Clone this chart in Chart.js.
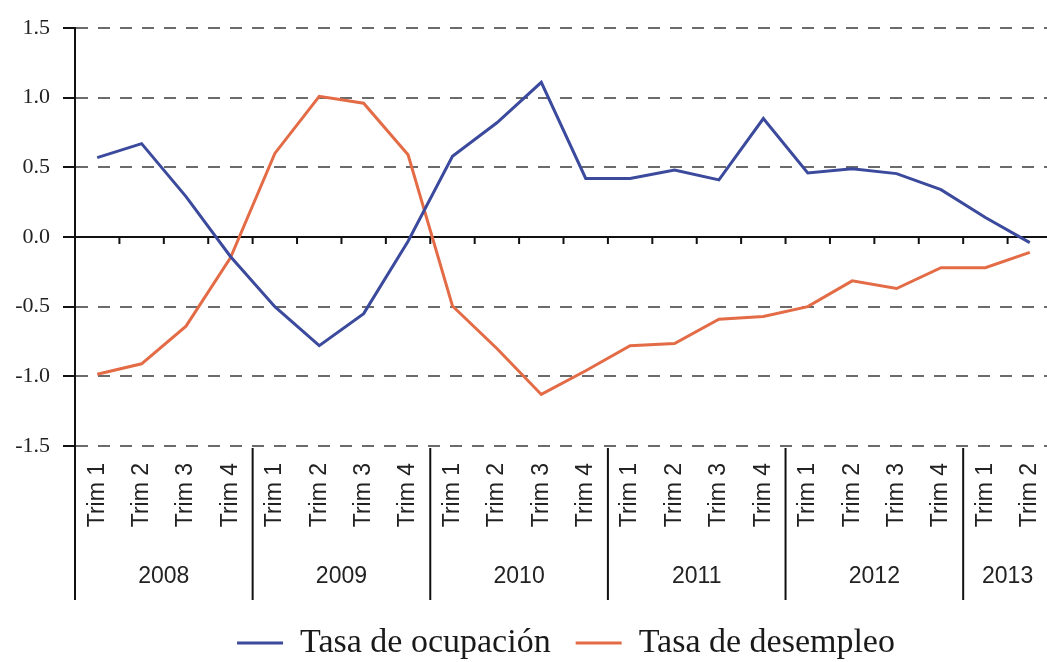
<!DOCTYPE html>
<html lang="es">
<head>
<meta charset="utf-8">
<title>Tasa de ocupación y tasa de desempleo</title>
<script src="https://cdn.jsdelivr.net/npm/chart.js@4.4.1/dist/chart.umd.min.js"></script>
<style>
  html, body { margin: 0; padding: 0; background: #fff; overflow: hidden; }
  #marco { width: 1047px; height: 662px; overflow: hidden; }
  #lienzo { position: relative; width: 1052px; height: 670px; }
</style>
</head>
<body>
<div id="marco"><div id="lienzo"><canvas id="grafico"></canvas></div></div>
<script>
// --- Datos ---
const trimestres = [
    'Trim 1', 'Trim 2', 'Trim 3', 'Trim 4',
    'Trim 1', 'Trim 2', 'Trim 3', 'Trim 4',
    'Trim 1', 'Trim 2', 'Trim 3', 'Trim 4',
    'Trim 1', 'Trim 2', 'Trim 3', 'Trim 4',
    'Trim 1', 'Trim 2', 'Trim 3', 'Trim 4',
    'Trim 1', 'Trim 2'
];
const anios = ['2008', '2009', '2010', '2011', '2012', '2013'];
const trimPorAnio = [4, 4, 4, 4, 4, 2];

const tasaOcupacion = [
    0.57, 0.67, 0.29, -0.14,
    -0.50, -0.78, -0.55, -0.03,
    0.58, 0.82, 1.11, 0.42,
    0.42, 0.48, 0.41, 0.85,
    0.46, 0.49, 0.455, 0.34,
    0.14, -0.04
];
const tasaDesempleo = [
    -0.985, -0.91, -0.64, -0.15,
    0.60, 1.01, 0.96, 0.59,
    -0.495, -0.80, -1.13, -0.96,
    -0.78, -0.765, -0.59, -0.57,
    -0.50, -0.315, -0.37, -0.22,
    -0.22, -0.11
];
const ticksY = [-1.5, -1.0, -0.5, 0.0, 0.5, 1.0, 1.5];

const AZUL = '#3b4a9c';
const NARANJA = '#e36c47';
const SERIF = '"Liberation Serif", "Times New Roman", serif';
const SANS = '"Liberation Sans", Arial, sans-serif';

// Línea del cero, separadores y etiquetas de año
const ejeAnios = {
    id: 'ejeAnios',
    afterLayout(chart) {
        // la leyenda del original está algo corrida a la derecha
        chart.legend.left += 40;
        chart.legend.right += 40;
    },
    beforeDatasetsDraw(chart) {
        const { ctx, chartArea, scales: { x, y } } = chart;
        const y0 = y.getPixelForValue(0);
        const medio = (x.getPixelForValue(1) - x.getPixelForValue(0)) / 2;
        ctx.save();
        ctx.strokeStyle = '#111';
        ctx.lineWidth = 2;
        ctx.beginPath();
        ctx.moveTo(chartArea.left, y0);
        ctx.lineTo(chartArea.right, y0);
        for (let i = 0; i < trimestres.length; i++) {
            const bx = x.getPixelForValue(i) + medio;
            ctx.moveTo(bx, y0);
            ctx.lineTo(bx, y0 + 7);
        }
        ctx.stroke();
        ctx.restore();
    },
    afterDraw(chart) {
        const { ctx, chartArea, scales: { x } } = chart;
        const medio = (x.getPixelForValue(1) - x.getPixelForValue(0)) / 2;
        const abajo = chartArea.bottom + 154;
        ctx.save();
        ctx.strokeStyle = '#111';
        ctx.lineWidth = 2;
        ctx.fillStyle = '#222';
        ctx.font = '23px ' + SANS;
        ctx.textAlign = 'center';
        ctx.textBaseline = 'middle';
        ctx.beginPath();
        ctx.moveTo(chartArea.left, chartArea.bottom);
        ctx.lineTo(chartArea.left, abajo);
        let inicio = 0;
        anios.forEach((anio, k) => {
            const fin = inicio + trimPorAnio[k] - 1;
            const x1 = x.getPixelForValue(inicio) - medio;
            const x2 = x.getPixelForValue(fin) + medio;
            if (k > 0) {
                ctx.moveTo(x1, chartArea.bottom + 2);
                ctx.lineTo(x1, abajo);
            }
            ctx.fillText(anio, (x1 + x2) / 2, chartArea.bottom + 131);
            inicio = fin + 1;
        });
        ctx.stroke();
        ctx.restore();
    }
};

const ctx = document.getElementById('grafico').getContext('2d');
new Chart(ctx, {
    type: 'line',
    data: {
        labels: trimestres,
        datasets: [{
            label: 'Tasa de ocupación',
            data: tasaOcupacion,
            borderColor: AZUL,
            backgroundColor: AZUL,
            borderWidth: 3,
            pointRadius: 0,
            tension: 0
        }, {
            label: 'Tasa de desempleo',
            data: tasaDesempleo,
            borderColor: NARANJA,
            backgroundColor: NARANJA,
            borderWidth: 3,
            pointRadius: 0,
            tension: 0
        }]
    },
    options: {
        responsive: true,
        maintainAspectRatio: false,
        animation: false,
        layout: { padding: { top: 28, left: 0, right: 0, bottom: 0 } },
        scales: {
            x: {
                offset: true,
                grid: { display: false, drawTicks: false },
                border: { display: false },
                afterFit: s => {
                    s.height = 155;
                    s.paddingLeft = 0;
                    s.paddingRight = 0;
                },
                ticks: {
                    autoSkip: false,
                    minRotation: 90,
                    maxRotation: 90,
                    padding: 17,
                    color: '#222',
                    font: { family: SANS, size: 23 }
                }
            },
            y: {
                min: -1.5,
                max: 1.5,
                afterBuildTicks: s => { s.ticks = ticksY.map(v => ({ value: v })); },
                afterFit: s => { s.width = 75; },
                grid: {
                    color: '#6b6b6b',
                    lineWidth: 2,
                    drawTicks: true,
                    tickLength: 12,
                    tickColor: '#111',
                    tickWidth: 2,
                    tickBorderDash: []
                },
                border: { display: true, color: '#111', width: 2, dash: [12, 10] },
                ticks: {
                    padding: 13,
                    color: '#222',
                    font: { family: SERIF, size: 22 },
                    callback: v => v.toFixed(1)
                }
            }
        },
        plugins: {
            legend: {
                position: 'bottom',
                labels: {
                    usePointStyle: true,
                    pointStyle: 'line',
                    pointStyleWidth: 46,
                    padding: 25,
                    color: '#1a1a1a',
                    font: { family: SERIF, size: 34 }
                }
            },
            tooltip: { enabled: false }
        }
    },
    plugins: [ejeAnios]
});
</script>
</body>
</html>
